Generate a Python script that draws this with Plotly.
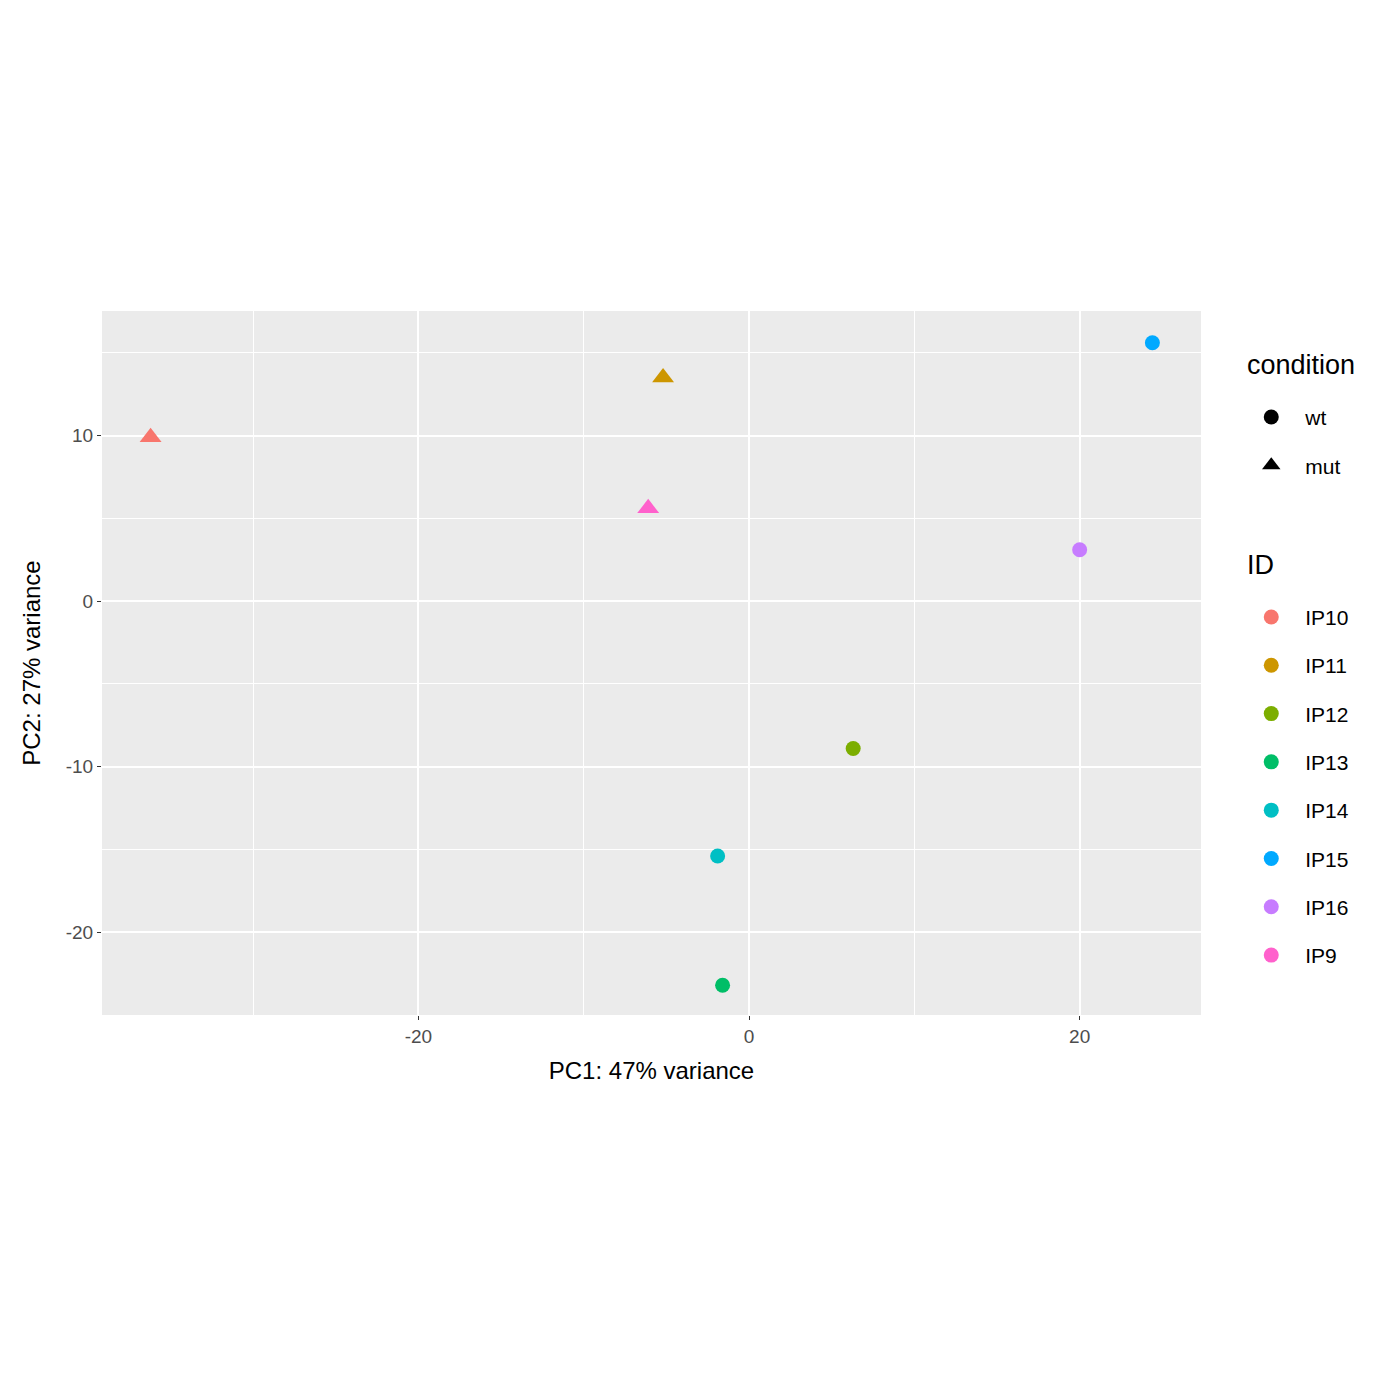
import plotly.graph_objects as go

ids = ["IP10", "IP11", "IP12", "IP13", "IP14", "IP15", "IP16", "IP9"]
conditions = ["mut", "mut", "wt", "wt", "wt", "wt", "wt", "mut"]
pc1 = [-36.2, -5.2, 6.3, -1.6, -1.9, 24.4, 20.0, -6.1]
pc2 = [9.9, 13.5, -8.9, -23.2, -15.4, 15.6, 3.1, 5.6]
colors = ["#F8766D", "#CD9600", "#7CAE00", "#00BE67", "#00BFC4", "#00A9FF", "#C77CFF", "#FF61CC"]
symbols = {"wt": "circle", "mut": "triangle-up"}
x_ticks = [-20, 0, 20]
y_ticks = [-20, -10, 0, 10]

fig = go.Figure()

# data points
for i, sample in enumerate(ids):
    fig.add_trace(go.Scatter(
        x=[pc1[i]], y=[pc2[i]], mode="markers", name=sample, showlegend=False,
        marker=dict(color=colors[i], size=19 if conditions[i] == "mut" else 15,
                    symbol=symbols[conditions[i]]),
    ))

# condition legend (shape only)
for cond in ["wt", "mut"]:
    fig.add_trace(go.Scatter(
        x=[None], y=[None], mode="markers", name=cond, legendgroup=cond,
        marker=dict(color="black", size=15 if cond == "wt" else 19, symbol=symbols[cond]),
        legend="legend",
    ))

# ID legend (colour only)
for i, sample in enumerate(ids):
    fig.add_trace(go.Scatter(
        x=[None], y=[None], mode="markers", name=sample, legendgroup=sample,
        marker=dict(color=colors[i], size=15, symbol="circle"),
        legend="legend2",
    ))

axis_common = dict(
    showgrid=True, gridcolor="white", gridwidth=2,
    zeroline=False, ticks="outside", ticklen=4, tickcolor="#333333",
    tickfont=dict(family="Liberation Sans", size=19, color="#4d4d4d"),
    title_font=dict(family="Liberation Sans", size=24, color="black"),
)

fig.update_xaxes(range=[-39.14, 27.34], tickvals=x_ticks, ticktext=[str(v) for v in x_ticks],
                 minor=dict(tickvals=[-30, -10, 10], showgrid=True, gridcolor="white", gridwidth=1),
                 title_text="PC1: 47% variance", title_standoff=16, **axis_common)
fig.update_yaxes(range=[-25.0, 17.52], tickvals=y_ticks, ticktext=[str(v) for v in y_ticks],
                 minor=dict(tickvals=[-15, -5, 5, 15], showgrid=True, gridcolor="white", gridwidth=1),
                 title_text="PC2: 27% variance", title_standoff=18, **axis_common)

legend_style = dict(
    font=dict(family="Liberation Sans", size=21, color="black"),
    bgcolor="rgba(0,0,0,0)", xref="paper", yref="paper",
    xanchor="left", yanchor="top", itemsizing="trace",
    tracegroupgap=18, itemwidth=58,
)
fig.update_layout(
    width=1400, height=1400,
    margin=dict(l=94, r=207, t=303, b=393),
    paper_bgcolor="white", plot_bgcolor="#ebebeb",
    legend=dict(x=1.033, y=0.878, **legend_style),
    legend2=dict(x=1.033, y=0.594, **legend_style),
)
for title, ypos in [("condition", 0.923), ("ID", 0.639)]:
    fig.add_annotation(text=title, xref="paper", yref="paper", x=1.040, y=ypos,
                       xanchor="left", yanchor="middle", showarrow=False,
                       font=dict(family="Liberation Sans", size=27, color="black"))

fig.write_html("out.html")
